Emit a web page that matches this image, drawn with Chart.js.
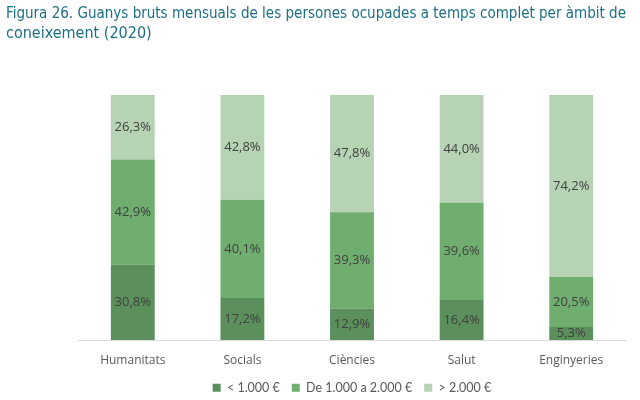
<!DOCTYPE html>
<html>
<head>
<meta charset="utf-8">
<script src="https://cdn.jsdelivr.net/npm/chart.js@4/dist/chart.umd.min.js"></script>
<style>
  html, body { margin: 0; padding: 0; background: #fff; }
  #wrap { width: 640px; height: 400px; }
</style>
</head>
<body>
<div id="wrap"><canvas id="barChart" width="640" height="400"></canvas></div>
<script>
const ambits = ['Humanitats', 'Socials', 'Ciències', 'Salut', 'Enginyeries'];
const menys1000 = [30.8, 17.2, 12.9, 16.4, 5.3];
const de1000a2000 = [42.9, 40.1, 39.3, 39.6, 20.5];
const mes2000 = [26.3, 42.8, 47.8, 44.0, 74.2];
const seriesNames = ['< 1.000 €', 'De 1.000 a 2.000 €', '> 2.000 €'];

// labels inside each segment, comma decimals
const segmentLabels = {
  id: 'segmentLabels',
  afterDatasetsDraw(chart) {
    const ctx = chart.ctx;
    ctx.save();
    ctx.font = '13px "Open Sans", sans-serif';
    ctx.fillStyle = '#404040';
    ctx.textAlign = 'center';
    ctx.textBaseline = 'middle';
    chart.data.datasets.forEach((ds, i) => {
      chart.getDatasetMeta(i).data.forEach((bar, j) => {
        const txt = ds.data[j].toFixed(1).replace('.', ',') + '%';
        const mid = (bar.y + bar.base) / 2;
        ctx.fillText(txt, bar.x, mid);
      });
    });
    ctx.restore();
  }
};

const ctx = document.getElementById('barChart').getContext('2d');
const barChart = new Chart(ctx, {
  type: 'bar',
  data: {
    labels: ambits,
    datasets: [
      { label: seriesNames[0], data: menys1000, backgroundColor: '#5b8f5b' },
      { label: seriesNames[1], data: de1000a2000, backgroundColor: '#6fae6e' },
      { label: seriesNames[2], data: mes2000, backgroundColor: '#b6d3b3' }
    ]
  },
  options: {
    responsive: false,
    animation: false,
    layout: { padding: { left: 6, right: 14, bottom: -4 } },
    datasets: { bar: { categoryPercentage: 1, barPercentage: 0.4 } },
    scales: {
      x: {
        stacked: true,
        grid: { display: false },
        border: { display: true, color: '#d9d9d9', width: 1 },
        ticks: { color: '#595959', font: { family: '"Open Sans", sans-serif', size: 12 }, padding: 5 },
        afterFit(scale) { scale.height -= 3; }
      },
      y: {
        stacked: true,
        min: 0,
        max: 100,
        grid: { display: false },
        border: { display: false },
        ticks: { display: false },
        afterFit(scale) { scale.width = 72; }
      }
    },
    plugins: {
      title: {
        display: true,
        align: 'start',
        text: ['Figura 26. Guanys bruts mensuals de les persones ocupades a temps complet per àmbit de', 'coneixement (2020)'],
        color: '#1b6f83',
        font: { family: '"DejaVu Sans Condensed", "DejaVu Sans", sans-serif', size: 16, weight: 'normal', lineHeight: 1.25 },
        padding: { top: 4, bottom: 51 }
      },
      legend: {
        position: 'bottom',
        fullSize: false,
        labels: {
          boxWidth: 8,
          boxHeight: 8,
          color: '#595959',
          font: { family: 'Lato, sans-serif', size: 12.5 },
          padding: 12
        }
      },
      tooltip: { enabled: false }
    }
  },
  plugins: [segmentLabels]
});
</script>
</body>
</html>
